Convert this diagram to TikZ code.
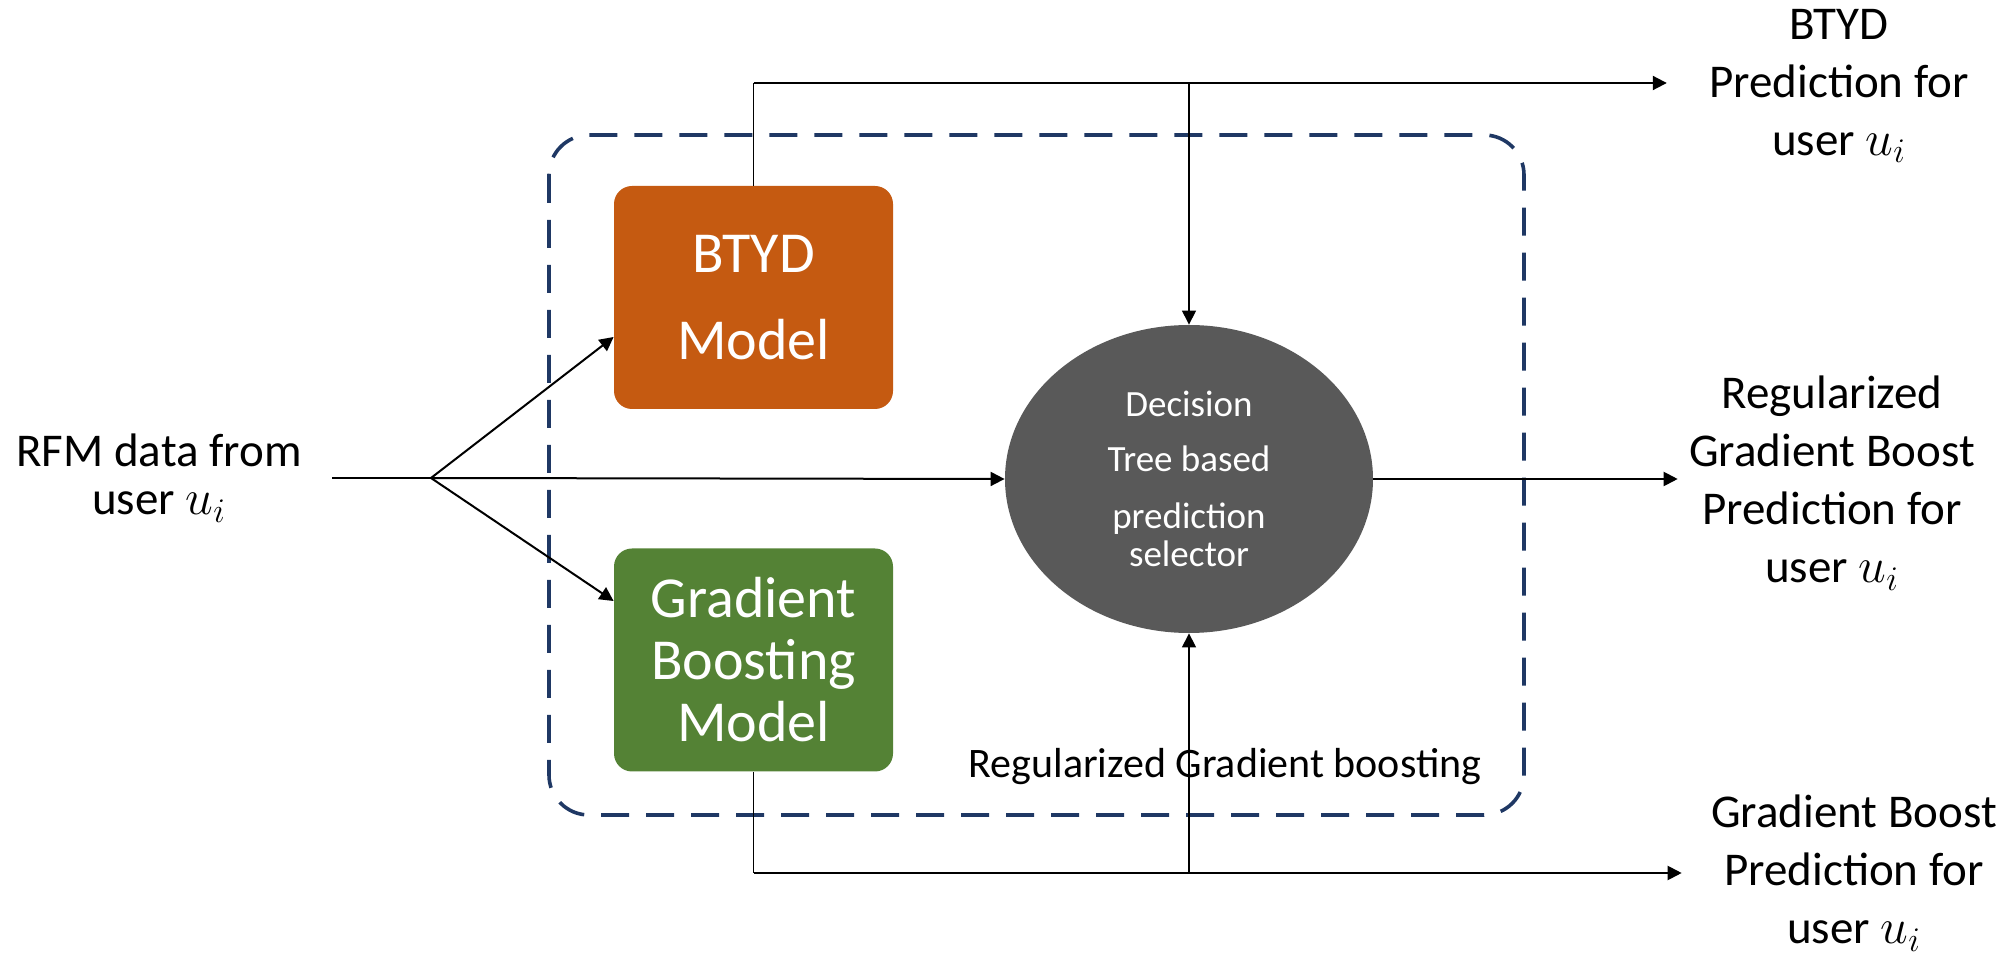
\documentclass[tikz,border=0pt]{standalone}
\usepackage{fontspec}
\setmainfont{Carlito}
\usetikzlibrary{arrows.meta, shapes.geometric}

\definecolor{btydorange}{HTML}{C55A11}
\definecolor{gbgreen}{HTML}{548235}
\definecolor{selgray}{HTML}{595959}
\definecolor{boxnavy}{HTML}{1F3864}

\tikzset{model/.style = {rounded corners = 9pt, text = white, minimum width = 139.5pt, minimum height = 111.5pt, align = center, inner sep = 0}}
\tikzset{outlbl/.style = {align = center, font = \fontsize{23.5}{29}\selectfont, inner ysep = 0}}
\tikzset{conn/.style = {line width = 1pt}}
\tikzset{arr/.style = {conn, -{Triangle[length = 7pt, width = 7pt]}}}

\begin{document}
\begin{tikzpicture}[x = 0.5pt, y = -0.5pt]
    \useasboundingbox (0, 0) rectangle (2015, 956);

    \draw [boxnavy, line width = 1.8pt, dash pattern = on 14pt off 8.5pt, rounded corners = 20pt] (549, 135) rectangle (1524, 815);

    \node [model, fill = btydorange, font = \fontsize{29}{43.5}\selectfont] (btyd) at (753.5, 297.5) {BTYD\\Model};
    \node [model, fill = gbgreen, font = \fontsize{29}{31}\selectfont] (gb) at (753.5, 660) {Gradient\\Boosting\\Model};
    \node [ellipse, fill = selgray, text = white, minimum width = 184pt, minimum height = 154pt, inner sep = 0, align = center, font = \fontsize{18.5}{19}\selectfont] (sel) at (1189, 479) {Decision\\[8.5pt]Tree based\\[9.5pt]prediction\\selector};

    \node [align = center, font = \fontsize{23.5}{24}\selectfont] (rfm) at (159, 478) {RFM data from\\user $u_i$};
    \node [outlbl, inner xsep = 21pt] (btydout) at (1839, 86) {BTYD\\Prediction for\\user $u_i$};
    \node [outlbl, inner xsep = 5.5pt] (rgbout) at (1832, 483) {Regularized\\Gradient Boost\\Prediction for\\user $u_i$};
    \node [outlbl, inner xsep = 14.5pt] (gbout) at (1854, 873) {Gradient Boost\\Prediction for\\user $u_i$};
    \node [font = \fontsize{21}{21}\selectfont] (rgblbl) at (1225, 767) {Regularized Gradient boosting};

    % input fans out to both models and the selector
    \coordinate (rfmend) at (332, 478);
    \coordinate (split) at (431, 478);
    \draw [conn] (rfmend) -- (split);
    \draw [arr] (split) -- ([yshift = -19.75pt] btyd.west);
    \draw [arr] (split) -- ([yshift = 29.5pt] gb.west);
    \draw [arr] (split) -- (sel.west);
    \draw [arr] (sel.east) -- (sel.east -| rgbout.west);

    % model outputs
    \coordinate (btydtop) at (753.5, 83);
    \coordinate (gbbot) at (753.5, 873);
    \draw [line width = 0.6pt] (btyd.north) -- (btydtop);
    \draw [arr] (btydtop) -- (btydtop -| btydout.west);
    \draw [arr, line width = 0.6pt] (sel.north |- btydtop) -- (sel.north);
    \draw [line width = 0.6pt] (gb.south) -- (gbbot);
    \draw [arr] (gbbot) -- (gbbot -| gbout.west);
    \draw [arr, line width = 0.6pt] (sel.south |- gbbot) -- (sel.south);
\end{tikzpicture}
\end{document}
